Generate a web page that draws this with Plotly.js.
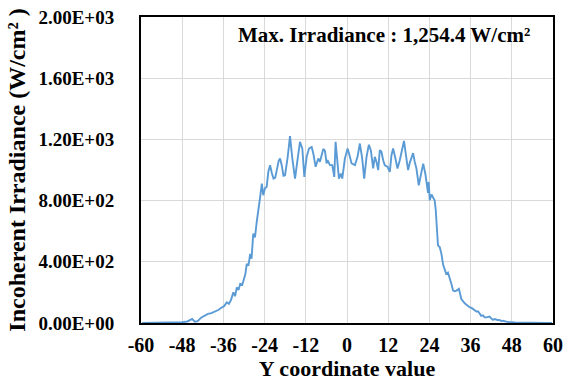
<!DOCTYPE html>
<html>
<head>
<meta charset="utf-8">
<script src="https://cdn.plot.ly/plotly-3.0.1.min.js"></script>
<style>html,body{margin:0;padding:0;background:#fff;}#chart{width:577px;height:387px;}</style>
</head>
<body>
<div id="chart"></div>
<script>
// Y coordinate values (x axis) and incoherent irradiance (W/cm²)
const yCoord = [
  -59.7, -56, -53, -50, -48, -46.5, -45.1, -44.3, -43.5, -42.5, -41.5, -40.5, -39.5, -38.5, -37.5,
  -36.6, -35.8, -35.0, -34.4, -33.8, -33.1, -32.6, -32.1, -31.6, -31.1, -30.5, -30.2, -29.6, -29.2,
  -28.7, -28.2, -27.8, -27.3, -26.8, -26.3, -25.8, -25.3, -24.8, -24.4, -23.9, -23.4, -22.9, -22.4,
  -21.9, -21.4, -20.9, -20.5, -19.9, -19.5, -19.0, -18.5,
  -18.05, -17.27, -16.6, -15.92, -15.14, -14.37, -13.69, -13.01, -12.43, -11.75, -11.07, -10.3, -9.81,
  -9.14, -8.36, -7.88, -7.39, -6.91, -6.42, -5.94, -5.65, -4.97, -4.29, -3.71, -3.32, -2.74, -2.35,
  -1.77, -1.38, -0.61, 0.17, 0.85, 1.33, 2.3, 3.07, 3.75, 4.43, 5.01, 5.69, 6.37,
  6.94, 7.62, 8.11, 8.59, 9.08, 9.56, 10.04, 10.53, 11.01, 11.79, 12.47, 12.95, 13.44, 14.11, 14.7,
  15.37, 16.05, 16.6, 17.31, 17.8, 18.29, 18.57, 19.25, 19.73, 20.22, 20.9, 21.4, 22.2, 22.8, 23.2,
  23.6, 23.8, 24.1, 24.6, 25.1, 25.55, 25.85, 26.2, 26.5, 27.0, 27.5, 28.0, 28.5, 28.9, 29.4, 29.9,
  30.4, 30.9, 31.4, 31.9, 32.6, 33.3, 33.8, 34.3, 34.8, 35.3, 35.8, 36.2, 36.7, 37.2, 37.7, 38.2,
  38.6, 39.1, 39.6, 40.1, 40.6, 41.1, 41.5, 42.0, 42.5, 43.0, 43.5, 44.0, 44.5, 45.0, 45.4, 45.9,
  46.4, 46.9, 47.4, 48, 49, 50, 51, 52, 53, 54, 55, 56, 58, 59.7
];
const irradiance = [
  0, 1, 3, 6, 5, 10, 26, 8, 12, 35, 48, 60, 65, 75, 85,
  100, 110, 135, 125, 150, 200, 175, 233, 215, 256, 250, 277, 320, 387,
  375, 452, 420, 584, 560, 660, 760, 823, 911, 835, 880, 889, 990, 1031,
  980, 944, 950, 998, 1060, 1075, 1030, 963,
  966, 1086, 1222, 1075, 944, 1075, 1184, 1140, 955, 1086, 1140, 1150, 1108,
  1021, 1075, 1054, 1108, 1138, 1125, 1043, 1065, 1032, 1032, 955, 1184, 1043, 944,
  977, 944, 1075, 1140, 1086, 1043, 1032, 1086, 1173, 1075, 944, 1086, 1165,
  1130, 1010, 1086, 1053, 999, 1130, 1119, 1064, 1031, 1021, 988, 1097, 1141, 1075, 1010,
  1064, 1130, 1190, 1075, 1000, 1047, 1064, 1110, 1053, 1010, 900, 965, 1042, 977, 900,
  850, 922, 802, 840, 815, 800, 737, 605, 507, 496, 452, 380, 348, 321, 330, 299,
  256, 212, 207, 212, 223, 157, 140, 129, 120, 110, 102, 100, 91, 88, 75, 75,
  63, 47, 50, 37, 37, 40, 42, 30, 20, 26, 22, 18, 20, 12, 15, 10,
  9, 6, 7, 5, 4, 3, 3, 2, 2, 1, 1, 0, 0, 0
];
const xTickVals = [-60, -48, -36, -24, -12, 0, 12, 24, 36, 48, 60];
const yTickVals = [0, 400, 800, 1200, 1600, 2000];
const yTickText = ['0.00E+00', '4.00E+02', '8.00E+02', '1.20E+03', '1.60E+03', '2.00E+03'];
const xTitle = 'Y coordinate value';
const yTitle = 'Incoherent Irradiance (W/cm² )';
const noteText = 'Max. Irradiance : 1,254.4 W/cm²';

const fam = 'Liberation Serif, Times New Roman, serif';
const trace = {
  x: yCoord, y: irradiance, type: 'scatter', mode: 'lines',
  line: {color: '#5b9bd5', width: 1.9}, hoverinfo: 'skip'
};
const layout = {
  width: 577, height: 387,
  margin: {l: 141, r: 24, t: 17, b: 64, pad: 0},
  paper_bgcolor: '#ffffff', plot_bgcolor: '#ffffff',
  showlegend: false,
  font: {family: fam, color: '#000000', size: 20, weight: 'bold'},
  xaxis: {
    range: [-60, 60], tickvals: xTickVals, ticktext: xTickVals.map(String),
    showgrid: true, gridcolor: '#d9d9d9', gridwidth: 1,
    showline: true, mirror: true, linecolor: '#000000', linewidth: 2,
    zeroline: false, ticks: '', ticklabelstandoff: 3,
    tickfont: {family: fam, size: 20, weight: 'bold', color: '#000000'},
    title: {text: xTitle, standoff: 4, font: {family: fam, size: 22, weight: 'bold', color: '#000000'}}
  },
  yaxis: {
    range: [0, 2000], tickvals: yTickVals, ticktext: yTickText,
    showgrid: true, gridcolor: '#d9d9d9', gridwidth: 1,
    showline: true, mirror: true, linecolor: '#000000', linewidth: 2,
    zeroline: false, ticks: '', ticklabelstandoff: 21,
    tickfont: {family: fam, size: 19, weight: 'bold', color: '#000000'},
    title: {text: yTitle, standoff: 6, font: {family: fam, size: 24, weight: 'bold', color: '#000000'}}
  },
  annotations: [{
    text: noteText, xref: 'paper', yref: 'paper', x: 0.591, y: 0.941,
    xanchor: 'center', yanchor: 'middle', showarrow: false,
    font: {family: fam, size: 21, weight: 'bold', color: '#000000'}
  }]
};
Plotly.newPlot('chart', [trace], layout, {staticPlot: true, displayModeBar: false});
</script>
</body>
</html>
